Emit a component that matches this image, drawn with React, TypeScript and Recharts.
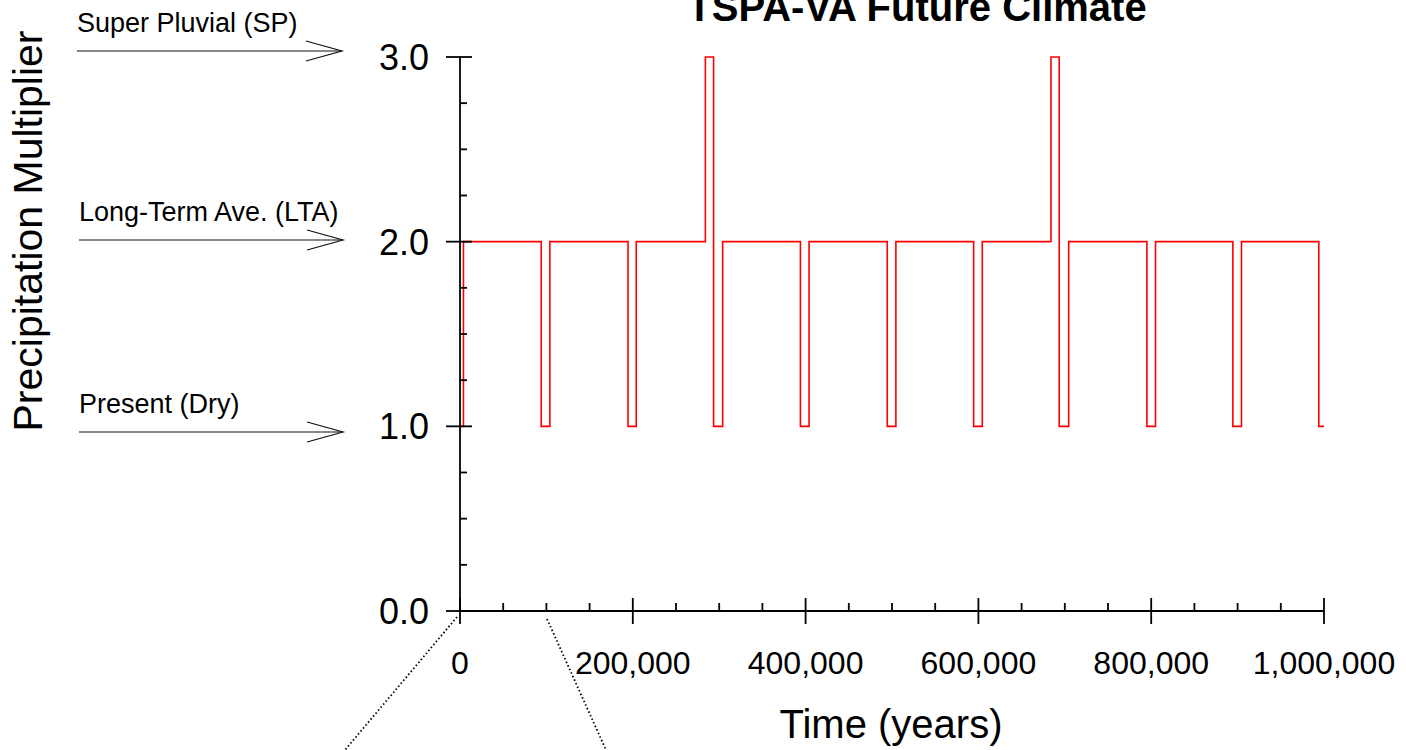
import React from 'react';
import { LineChart, Line, XAxis, YAxis } from 'recharts';

// Climate state changes: year at which each state begins, and its precipitation multiplier
const years = [
  0, 4000, 94000, 104000, 194500, 204000, 284000, 293500, 304000, 394000, 404000,
  494500, 504500, 594500, 604500, 684000, 693500, 704500, 795000, 805000, 894500,
  904500, 994000, 1000000,
];
const multiplier = [
  1, 2, 1, 2, 1, 2, 3, 1, 2, 1, 2,
  1, 2, 1, 2, 3, 1, 2, 1, 2, 1,
  2, 1, 1,
];

const xTicks = [
  0, 50000, 100000, 150000, 200000, 250000, 300000, 350000, 400000, 450000, 500000,
  550000, 600000, 650000, 700000, 750000, 800000, 850000, 900000, 950000, 1000000,
];
const xMajor = [0, 200000, 400000, 600000, 800000, 1000000];
const yTicks = [0, 0.25, 0.5, 0.75, 1, 1.25, 1.5, 1.75, 2, 2.25, 2.5, 2.75, 3];
const yMajor = [0, 1, 2, 3];

const climateLabels = ['Super Pluvial (SP)', 'Long-Term Ave. (LTA)', 'Present (Dry)'];

const data = years.map((year, i) => ({ year, value: multiplier[i] }));

const FONT = 'Arial, "Liberation Sans", Helvetica, sans-serif';
const AXIS_W = 1.8;

const XTick = (props: any) => {
  const { x, y, payload } = props;
  const v = payload.value as number;
  const major = xMajor.includes(v);
  return (
    <g>
      {major ? (
        <line x1={x} x2={x} y1={y - 13} y2={y + 13} stroke="#000" strokeWidth={AXIS_W} />
      ) : (
        <line x1={x} x2={x} y1={y} y2={y - 8} stroke="#000" strokeWidth={AXIS_W} />
      )}
      {major && (
        <text x={x} y={y + 63} textAnchor="middle" fontSize={32} fontFamily={FONT} fill="#000">
          {v.toLocaleString('en-US')}
        </text>
      )}
    </g>
  );
};

const YTick = (props: any) => {
  const { x, y, payload } = props;
  const v = payload.value as number;
  const major = yMajor.includes(v);
  return (
    <g>
      {major ? (
        <line x1={x - 14} x2={x + 12} y1={y} y2={y} stroke="#000" strokeWidth={AXIS_W} />
      ) : (
        <line x1={x} x2={x + 7} y1={y} y2={y} stroke="#000" strokeWidth={AXIS_W} />
      )}
      {major && (
        <text x={x - 31} y={y + 13} textAnchor="end" fontSize={36} fontFamily={FONT} fill="#000">
          {v.toFixed(1)}
        </text>
      )}
    </g>
  );
};

const Arrow = ({ x1, x2, y, label }: { x1: number; x2: number; y: number; label: string }) => (
  <g>
    <text x={x1} y={y - 19} fontSize={27} fontFamily={FONT} fill="#000">
      {label}
    </text>
    <line x1={x1} x2={x2} y1={y} y2={y} stroke="#111" strokeWidth={1.2} />
    <polyline
      points={`${x2 - 36},${y - 10} ${x2},${y} ${x2 - 36},${y + 10}`}
      fill="none"
      stroke="#111"
      strokeWidth={1.2}
    />
  </g>
);

export default function App() {
  return (
    <div style={{ position: 'absolute', left: 0, top: 0, width: 1406, height: 750, background: '#fff' }}>
      <LineChart
        width={1406}
        height={750}
        data={data}
        margin={{ top: 57, right: 82, bottom: 99, left: 360 }}
      >
        <XAxis
          type="number"
          dataKey="year"
          domain={[0, 1000000]}
          ticks={xTicks}
          interval={0}
          tickSize={0}
          tickMargin={0}
          tickLine={false}
          axisLine={{ stroke: '#000', strokeWidth: AXIS_W }}
          tick={<XTick />}
          height={40}
        />
        <YAxis
          type="number"
          domain={[0, 3]}
          ticks={yTicks}
          interval={0}
          tickSize={0}
          tickMargin={0}
          tickLine={false}
          axisLine={{ stroke: '#000', strokeWidth: AXIS_W }}
          tick={<YTick />}
          width={100}
        />
        <Line
          type="stepAfter"
          dataKey="value"
          stroke="#ff0000"
          strokeWidth={1.6}
          dot={false}
          activeDot={false}
          isAnimationActive={false}
        />
      </LineChart>
      <svg
        width={1406}
        height={750}
        style={{ position: 'absolute', left: 0, top: 0, pointerEvents: 'none', overflow: 'hidden' }}
      >
        <text x={917} y={21} textAnchor="middle" fontSize={40} fontWeight="bold" fontFamily={FONT} fill="#000">
          TSPA-VA Future Climate
        </text>
        <text
          transform="translate(42,231) rotate(-90)"
          textAnchor="middle"
          fontSize={41}
          fontFamily={FONT}
          fill="#000"
        >
          Precipitation Multiplier
        </text>
        <text x={891} y={738} textAnchor="middle" fontSize={40} fontFamily={FONT} fill="#000">
          Time (years)
        </text>
        <Arrow x1={77} x2={342} y={51} label={climateLabels[0]} />
        <Arrow x1={79} x2={343} y={240} label={climateLabels[1]} />
        <Arrow x1={79} x2={343} y={432} label={climateLabels[2]} />
        <line x1={457} y1={617} x2={345} y2={750} stroke="#000" strokeWidth={1.8} strokeDasharray="1.5 2.4" />
        <line x1={547} y1={619} x2={606} y2={750} stroke="#000" strokeWidth={1.8} strokeDasharray="1.5 2.4" />
      </svg>
    </div>
  );
}
